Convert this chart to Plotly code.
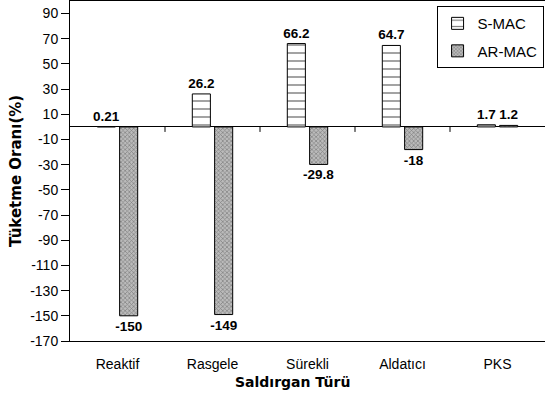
import plotly.graph_objects as go

categories = ["Reaktif", "Rasgele", "Sürekli", "Aldatıcı", "PKS"]
s_mac = [0.21, 26.2, 66.2, 64.7, 1.7]
ar_mac = [-150, -149, -29.8, -18, 1.2]
y_ticks = list(range(-170, 91, 20))
y_tick_text = [str(v) for v in y_ticks]  # plain hyphen-minus

FONT = "Liberation Sans, Arial, sans-serif"
TFONT = "DejaVu Sans, sans-serif"

fig = go.Figure()
fig.add_trace(go.Bar(
    name="S-MAC", x=categories, y=s_mac,
    text=[str(v) for v in s_mac], textposition="outside", constraintext="none",
    textfont=dict(family=FONT, size=13.5, color="black", weight="bold"),
    marker=dict(color="white", line=dict(color="black", width=1),
                pattern=dict(shape="-", size=8, solidity=0.18, fgcolor="black", bgcolor="white")),
    cliponaxis=False, legendgroup="a",
))
fig.add_trace(go.Bar(
    name="AR-MAC", x=categories, y=ar_mac,
    text=[str(v) for v in ar_mac], textposition="outside", constraintext="none",
    textfont=dict(family=FONT, size=13.5, color="black", weight="bold"),
    marker=dict(color="#9a9a9a", line=dict(color="black", width=1),
                pattern=dict(shape="x", size=3, solidity=0.4, fgcolor="#444444", bgcolor="#bbbbbb")),
    cliponaxis=False, legendgroup="b",
))

# small tick marks on the zero line at category boundaries
for i in range(len(categories) - 1):
    fig.add_shape(type="line", xref="x", yref="y", x0=i + 0.5, x1=i + 0.5,
                  ysizemode="pixel", yanchor=0, y0=0, y1=-5,
                  line=dict(color="black", width=1))

fig.add_annotation(text="Saldırgan Türü", xref="paper", yref="paper",
                   x=0.469, y=0, yshift=-41, xanchor="center", yanchor="middle",
                   showarrow=False, font=dict(family=TFONT, size=14, weight="bold"))

fig.update_layout(
    width=545, height=398,
    margin=dict(l=70, r=0, t=1, b=57),
    paper_bgcolor="white", plot_bgcolor="white",
    font=dict(family=FONT, size=14, color="black"),
    barmode="group", bargap=0.53, bargroupgap=0.19,
    showlegend=True,
    legend=dict(x=0.997, y=0.985, xanchor="right", yanchor="top",
                bordercolor="black", borderwidth=1, bgcolor="white",
                font=dict(family=FONT, size=15), traceorder="grouped",
                tracegroupgap=5, itemwidth=30),
    xaxis=dict(showline=True, linecolor="black", linewidth=1, mirror=True,
               ticks="", showgrid=False, ticklabelstandoff=10,
               tickfont=dict(family=FONT, size=14)),
    yaxis=dict(range=[-170, 100], tickvals=y_ticks, ticktext=y_tick_text,
               showline=True, linecolor="black",
               linewidth=1, ticks="outside", ticklen=8, tickcolor="black",
               showgrid=False, zeroline=True, zerolinecolor="black", zerolinewidth=1,
               tickfont=dict(family=FONT, size=14),
               title=dict(text="Tüketme Oranı(%)", standoff=4,
                          font=dict(family=TFONT, size=15, weight="bold"))),
)

fig.write_html("out.html")
